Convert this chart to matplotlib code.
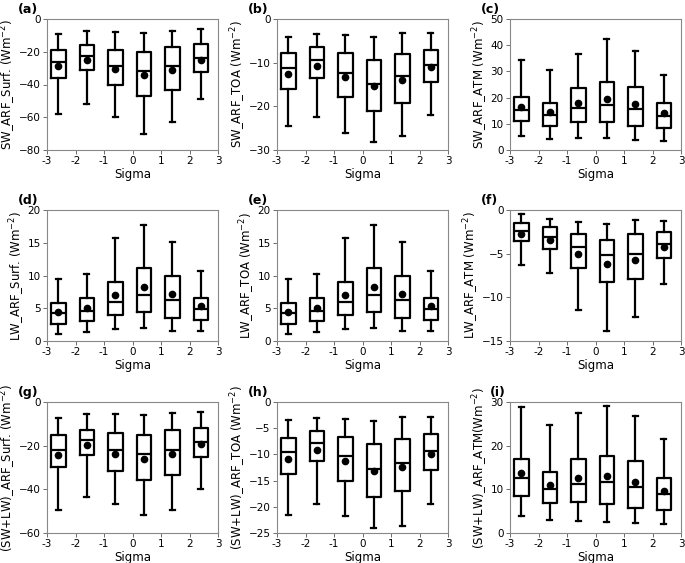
import numpy as np
import matplotlib
matplotlib.use('Agg')
import matplotlib.pyplot as plt

# Box positions (sigma bins)
positions = [-2.6, -1.6, -0.6, 0.4, 1.4, 2.4]
xticks = [-3, -2, -1, 0, 1, 2, 3]
xticklabels = ['-3', '-2', '-1', '0', '1', '2', '3']

# each panel: whislo, q1, med, q3, whishi, mean
sw_surf_lo = [-58.0, -52.2, -60.0, -70.4, -62.9, -48.6]
sw_surf_q1 = [-35.9, -31.4, -40.6, -47.3, -43.5, -32.2]
sw_surf_med = [-26.3, -22.9, -29.0, -31.8, -28.8, -23.7]
sw_surf_q3 = [-18.8, -16.1, -19.0, -20.0, -16.9, -15.1]
sw_surf_hi = [-9.0, -7.5, -8.2, -8.4, -7.1, -6.3]
sw_surf_mean = [-29.0, -25.3, -30.8, -34.5, -31.2, -24.9]

sw_toa_lo = [-24.6, -22.5, -26.0, -28.2, -26.8, -21.9]
sw_toa_q1 = [-16.1, -13.5, -17.8, -21.0, -19.3, -14.5]
sw_toa_med = [-11.3, -9.4, -12.3, -14.8, -13.1, -10.5]
sw_toa_q3 = [-7.8, -6.5, -7.8, -9.3, -8.0, -7.0]
sw_toa_hi = [-4.1, -3.4, -3.7, -4.1, -3.1, -3.1]
sw_toa_mean = [-12.5, -10.7, -13.3, -15.4, -13.9, -11.1]

sw_atm_lo = [5.2, 4.2, 4.6, 4.6, 3.8, 3.6]
sw_atm_q1 = [10.9, 9.3, 10.7, 10.7, 9.1, 8.4]
sw_atm_med = [15.2, 13.5, 16.1, 17.3, 15.6, 13.1]
sw_atm_q3 = [20.1, 18.0, 23.5, 26.1, 24.1, 17.9]
sw_atm_hi = [34.3, 30.5, 36.5, 42.4, 37.7, 28.7]
sw_atm_mean = [16.5, 14.6, 17.8, 19.3, 17.5, 14.0]

lw_surf_lo = [1.07, 1.4, 1.8, 2.0, 1.5, 1.5]
lw_surf_q1 = [2.65, 3.0, 3.9, 4.5, 3.5, 3.2]
lw_surf_med = [4.2, 4.6, 6.0, 7.0, 6.3, 4.95]
lw_surf_q3 = [5.8, 6.5, 9.0, 11.2, 9.95, 6.6]
lw_surf_hi = [9.4, 10.2, 15.8, 17.7, 15.1, 10.7]
lw_surf_mean = [4.5, 5.05, 7.0, 8.2, 7.1, 5.3]

lw_toa_lo = [1.07, 1.4, 1.8, 2.0, 1.5, 1.5]
lw_toa_q1 = [2.65, 3.0, 3.9, 4.5, 3.5, 3.2]
lw_toa_med = [4.2, 4.6, 6.0, 7.0, 6.3, 4.95]
lw_toa_q3 = [5.8, 6.5, 9.0, 11.2, 9.95, 6.6]
lw_toa_hi = [9.4, 10.2, 15.8, 17.7, 15.1, 10.7]
lw_toa_mean = [4.5, 5.05, 7.0, 8.2, 7.1, 5.3]

lw_atm_lo = [-6.3, -7.2, -11.5, -13.9, -12.2, -8.5]
lw_atm_q1 = [-3.55, -4.45, -6.6, -8.3, -7.9, -5.45]
lw_atm_med = [-2.4, -3.1, -4.2, -5.2, -5.0, -3.9]
lw_atm_q3 = [-1.5, -2.0, -2.8, -3.4, -2.8, -2.5]
lw_atm_hi = [-0.5, -1.0, -1.4, -1.6, -1.2, -1.3]
lw_atm_mean = [-2.7, -3.45, -5.0, -6.2, -5.7, -4.2]

net_surf_lo = [-49.5, -43.5, -46.6, -51.8, -49.6, -39.8]
net_surf_q1 = [-29.9, -24.3, -31.7, -35.5, -33.4, -25.1]
net_surf_med = [-21.9, -17.6, -22.0, -24.0, -22.2, -18.2]
net_surf_q3 = [-15.3, -12.6, -14.2, -14.9, -13.0, -11.8]
net_surf_hi = [-7.35, -5.5, -5.7, -6.0, -5.2, -4.6]
net_surf_mean = [-24.2, -19.9, -23.6, -26.0, -23.6, -19.4]

net_toa_lo = [-21.6, -19.4, -21.8, -24.0, -23.7, -19.4]
net_toa_q1 = [-13.8, -11.3, -15.1, -18.2, -17.0, -13.0]
net_toa_med = [-9.5, -7.8, -10.3, -12.8, -11.7, -9.3]
net_toa_q3 = [-6.8, -5.5, -6.6, -8.0, -7.1, -6.2]
net_toa_hi = [-3.5, -3.0, -3.2, -3.6, -2.9, -2.8]
net_toa_mean = [-10.8, -9.1, -11.3, -13.2, -12.4, -10.0]

net_atm_lo = [3.9, 3.0, 2.7, 2.5, 2.2, 2.1]
net_atm_q1 = [8.5, 6.8, 7.2, 6.7, 5.7, 5.3]
net_atm_med = [12.65, 10.1, 11.3, 11.6, 10.5, 8.9]
net_atm_q3 = [17.0, 14.0, 17.0, 17.65, 16.5, 12.6]
net_atm_hi = [28.8, 24.7, 27.5, 29.0, 26.8, 21.6]
net_atm_mean = [13.8, 11.1, 12.7, 13.1, 11.7, 9.7]

panels = [
    ('(a)', 'SW_ARF_Surf. (Wm$^{-2}$)', (-80, 0), [-80, -60, -40, -20, 0],
     sw_surf_lo, sw_surf_q1, sw_surf_med, sw_surf_q3, sw_surf_hi, sw_surf_mean),
    ('(b)', 'SW_ARF_TOA (Wm$^{-2}$)', (-30, 0), [-30, -20, -10, 0],
     sw_toa_lo, sw_toa_q1, sw_toa_med, sw_toa_q3, sw_toa_hi, sw_toa_mean),
    ('(c)', 'SW_ARF_ATM (Wm$^{-2}$)', (0, 50), [0, 10, 20, 30, 40, 50],
     sw_atm_lo, sw_atm_q1, sw_atm_med, sw_atm_q3, sw_atm_hi, sw_atm_mean),
    ('(d)', 'LW_ARF_Surf. (Wm$^{-2}$)', (0, 20), [0, 5, 10, 15, 20],
     lw_surf_lo, lw_surf_q1, lw_surf_med, lw_surf_q3, lw_surf_hi, lw_surf_mean),
    ('(e)', 'LW_ARF_TOA (Wm$^{-2}$)', (0, 20), [0, 5, 10, 15, 20],
     lw_toa_lo, lw_toa_q1, lw_toa_med, lw_toa_q3, lw_toa_hi, lw_toa_mean),
    ('(f)', 'LW_ARF_ATM (Wm$^{-2}$)', (-15, 0), [-15, -10, -5, 0],
     lw_atm_lo, lw_atm_q1, lw_atm_med, lw_atm_q3, lw_atm_hi, lw_atm_mean),
    ('(g)', '(SW+LW)_ARF_Surf. (Wm$^{-2}$)', (-60, 0), [-60, -40, -20, 0],
     net_surf_lo, net_surf_q1, net_surf_med, net_surf_q3, net_surf_hi, net_surf_mean),
    ('(h)', '(SW+LW)_ARF_TOA (Wm$^{-2}$)', (-25, 0), [-25, -20, -15, -10, -5, 0],
     net_toa_lo, net_toa_q1, net_toa_med, net_toa_q3, net_toa_hi, net_toa_mean),
    ('(i)', '(SW+LW)_ARF_ATM(Wm$^{-2}$)', (0, 30), [0, 10, 20, 30],
     net_atm_lo, net_atm_q1, net_atm_med, net_atm_q3, net_atm_hi, net_atm_mean),
]

fig = plt.figure(figsize=(6.85, 5.63), dpi=100)

lefts = [47, 277, 510]
tops = [19, 210, 402]
W, H = 685.0, 563.0
aw, ah = 171, 131

for k, p in enumerate(panels):
    label, ylab, ylim, yticks, lo, q1, med, q3, hi, mn = p
    r, c = k // 3, k % 3
    ax = fig.add_axes([lefts[c] / W, 1 - (tops[r] + ah) / H, aw / W, ah / H])
    stats = []
    for i in range(len(positions)):
        stats.append({'whislo': lo[i], 'q1': q1[i], 'med': med[i], 'q3': q3[i],
                      'whishi': hi[i], 'mean': mn[i], 'fliers': []})
    lp = dict(color='black', linewidth=1.6)
    ax.bxp(stats, positions=positions, widths=0.5, showmeans=True,
           showfliers=False, capwidths=0.17,
           boxprops=lp, whiskerprops=lp, capprops=lp, medianprops=lp,
           meanprops=dict(marker='o', markerfacecolor='black',
                          markeredgecolor='black', markersize=4.5))
    ax.set_xlim(-3, 3)
    ax.set_xticks(xticks)
    ax.set_xticklabels(xticklabels)
    ax.set_ylim(*ylim)
    ax.set_yticks(yticks)
    ax.set_xlabel('Sigma', fontsize=8.5, labelpad=1)
    ax.set_ylabel(ylab, fontsize=8.5, labelpad=0.5)
    ax.tick_params(labelsize=7.5, length=3, width=0.6, colors='#555555',
                   labelcolor='black', pad=1.5)
    for s in ax.spines.values():
        s.set_color('#888888')
        s.set_linewidth(0.8)
    xoff = -0.115 if label == '(i)' else -0.17
    ax.text(xoff, 1.02, label, transform=ax.transAxes, fontsize=9,
            fontweight='bold', va='bottom', ha='left')

fig.savefig('out.png', dpi=100)
